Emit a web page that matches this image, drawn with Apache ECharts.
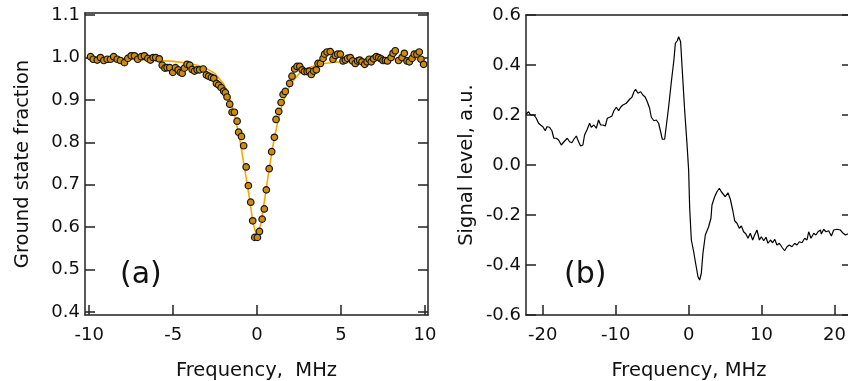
<!DOCTYPE html>
<html><head><meta charset="utf-8">
<script src="https://cdn.jsdelivr.net/npm/echarts@6/dist/echarts.min.js"></script>
<style>html,body{margin:0;padding:0;background:#fff}#c{width:848px;height:381px}</style>
</head><body><div id="c"></div>
<script>
// Panel (a): ground state fraction vs frequency (MHz)
const gsFreq = [-9.92,-9.76,-9.52,-9.33,-9.13,-8.93,-8.73,-8.54,-8.33,-8.14,-7.90,-7.70,-7.50,-7.30,-7.11,-6.90,-6.71,-6.51,-6.35,-6.19,-6.04,-5.83,-5.65,-5.49,-5.36,-5.20,-5.02,-4.86,-4.70,-4.57,-4.46,-4.33,-4.17,-4.01,-3.87,-3.73,-3.57,-3.42,-3.21,-3.02,-2.88,-2.72,-2.58,-2.42,-2.29,-2.14,-1.99,-1.89,-1.79,-1.63,-1.49,-1.35,-1.19,-1.10,-0.93,-0.80,-0.65,-0.52,-0.38,-0.26,-0.14,0.02,0.14,0.30,0.43,0.55,0.72,0.87,1.03,1.13,1.29,1.43,1.55,1.68,1.94,2.08,2.24,2.38,2.54,2.68,2.82,2.98,3.11,3.23,3.37,3.53,3.63,3.77,3.93,4.02,4.17,4.36,4.52,4.66,4.80,4.96,5.12,5.26,5.39,5.55,5.69,5.85,5.99,6.11,6.25,6.41,6.55,6.68,6.80,6.94,7.10,7.24,7.38,7.50,7.64,7.77,7.98,8.10,8.23,8.43,8.63,8.77,8.93,9.07,9.23,9.36,9.52,9.66,9.76,9.92];
const gsFrac = [1.002,0.996,0.994,1.000,0.993,0.996,0.996,1.002,0.996,0.993,0.988,0.998,1.004,1.004,0.996,1.002,1.004,0.998,0.994,1.000,1.000,0.997,0.982,0.975,0.976,0.976,0.965,0.976,0.971,0.965,0.963,0.975,0.984,0.982,0.972,0.968,0.971,0.971,0.973,0.959,0.956,0.953,0.951,0.939,0.935,0.929,0.921,0.917,0.907,0.890,0.871,0.871,0.850,0.824,0.814,0.792,0.742,0.698,0.659,0.615,0.576,0.576,0.590,0.619,0.643,0.688,0.738,0.778,0.812,0.854,0.873,0.894,0.913,0.920,0.939,0.956,0.973,0.979,0.979,0.971,0.967,0.967,0.968,0.960,0.968,0.971,0.986,0.986,0.998,1.008,1.013,1.014,0.996,1.005,1.008,1.008,0.992,0.994,0.998,1.000,0.992,0.986,0.992,0.994,0.990,0.984,0.990,0.996,0.990,0.997,1.002,1.000,0.997,0.993,0.993,0.992,1.000,1.010,1.016,0.993,1.000,1.010,0.992,0.990,0.998,1.008,1.008,1.013,0.996,0.984];
// Panel (a): fitted curve
const fitFreq = [-10,-8,-6,-5,-4,-3.5,-3,-2.5,-2,-1.75,-1.5,-1.25,-1,-0.75,-0.5,-0.25,0,0.25,0.5,0.75,1,1.25,1.5,1.75,2,2.5,3,3.5,4,5,6,8,10];
const fitFrac = [0.997,0.996,0.994,0.991,0.986,0.981,0.974,0.962,0.938,0.918,0.888,0.848,0.800,0.740,0.680,0.612,0.575,0.612,0.680,0.745,0.805,0.852,0.890,0.918,0.938,0.962,0.975,0.981,0.986,0.990,0.993,0.996,0.997];
// Panel (b): signal level vs frequency (MHz)
const sigFreq = [-22.27,-21.95,-21.67,-21.22,-20.89,-20.58,-20.30,-19.99,-19.66,-19.43,-19.07,-18.75,-18.48,-18.15,-17.83,-17.46,-17.10,-16.64,-16.32,-16.01,-15.73,-15.40,-15.09,-14.81,-14.50,-14.27,-13.90,-13.58,-13.35,-12.99,-12.66,-12.35,-12.07,-11.76,-11.43,-11.15,-10.84,-10.52,-10.25,-9.92,-9.60,-9.33,-9.01,-8.55,-8.09,-7.78,-7.50,-7.27,-6.95,-6.58,-6.27,-5.94,-5.67,-5.35,-5.12,-4.76,-4.43,-4.12,-3.84,-3.61,-3.29,-3.06,-2.74,-2.37,-2.02,-1.82,-1.55,-1.37,-1.10,-0.82,-0.55,-0.23,0.00,0.14,0.37,0.69,1.00,1.28,1.51,1.74,1.96,2.29,2.74,3.06,3.20,3.57,3.88,4.21,4.48,4.71,5.03,5.39,5.72,6.04,6.31,6.63,6.95,7.23,7.54,7.86,8.14,8.46,8.78,9.05,9.37,9.70,9.97,10.29,10.61,10.88,11.21,11.52,11.80,12.11,12.44,12.80,13.17,13.49,13.81,14.17,14.54,14.86,15.18,15.54,15.91,16.23,16.46,16.78,17.15,17.46,17.74,18.07,18.20,18.52,18.83,19.20,19.57,19.89,20.34,20.80,21.12,21.49,21.71,22.10];
const sigLevel = [0.204,0.213,0.200,0.200,0.187,0.167,0.160,0.153,0.137,0.153,0.151,0.137,0.107,0.107,0.100,0.080,0.093,0.107,0.093,0.089,0.103,0.116,0.093,0.076,0.080,0.120,0.143,0.167,0.151,0.160,0.147,0.180,0.160,0.160,0.156,0.187,0.191,0.196,0.217,0.231,0.217,0.231,0.240,0.247,0.263,0.271,0.293,0.303,0.287,0.293,0.280,0.271,0.253,0.227,0.191,0.177,0.180,0.167,0.133,0.103,0.103,0.111,0.233,0.333,0.420,0.487,0.497,0.513,0.493,0.353,0.220,0.087,-0.020,-0.170,-0.300,-0.347,-0.400,-0.447,-0.460,-0.433,-0.353,-0.280,-0.247,-0.213,-0.160,-0.127,-0.107,-0.093,-0.107,-0.107,-0.127,-0.111,-0.137,-0.180,-0.223,-0.233,-0.253,-0.244,-0.267,-0.276,-0.293,-0.273,-0.300,-0.280,-0.260,-0.300,-0.287,-0.303,-0.289,-0.313,-0.300,-0.311,-0.297,-0.320,-0.313,-0.329,-0.343,-0.327,-0.320,-0.327,-0.313,-0.320,-0.307,-0.311,-0.293,-0.300,-0.267,-0.293,-0.273,-0.280,-0.267,-0.260,-0.276,-0.257,-0.267,-0.263,-0.284,-0.260,-0.257,-0.260,-0.271,-0.280,-0.276,-0.272];
// Tick values
const ticksAx = [-10,-5,0,5,10];
const ticksAy = [0.4,0.5,0.6,0.7,0.8,0.9,1.0,1.1];
const ticksBx = [-20,-10,0,10,20];
const ticksBy = [-0.6,-0.4,-0.2,0.0,0.2,0.4,0.6];

const FONT = 'DejaVu Sans';
const lineStyle = {color:'#222', width:1.5};
function mainX(grid, min, max, ticks, name){
  return {type:'value', gridIndex:grid, position:'bottom', min:min, max:max,
    axisLine:{show:true, onZero:false, lineStyle:lineStyle},
    axisTick:{show:true, inside:true, length:10, customValues:ticks, lineStyle:lineStyle},
    axisLabel:{show:true, customValues:ticks, margin:11, fontSize:18, fontFamily:FONT, color:'#111',
      formatter:v=>String(Math.round(v))},
    splitLine:{show:false},
    name:name, nameLocation:'middle', nameGap:46,
    nameTextStyle:{fontSize:19.5, fontFamily:FONT, color:'#111'}};
}
function topX(grid, min, max){
  return {type:'value', gridIndex:grid, position:'top', min:min, max:max,
    axisLine:{show:true, onZero:false, lineStyle:lineStyle},
    axisTick:{show:false}, axisLabel:{show:false}, splitLine:{show:false}};
}
function mainY(grid, min, max, ticks, name, gap){
  return {type:'value', gridIndex:grid, position:'left', min:min, max:max,
    axisLine:{show:true, onZero:false, lineStyle:lineStyle},
    axisTick:{show:true, inside:true, length:10, customValues:ticks, lineStyle:lineStyle},
    axisLabel:{show:true, customValues:ticks, margin:5, fontSize:18, fontFamily:FONT, color:'#111',
      formatter:v=>v.toFixed(1)},
    splitLine:{show:false},
    name:name, nameLocation:'middle', nameGap:gap, nameRotate:90,
    nameTextStyle:{fontSize:19.5, fontFamily:FONT, color:'#111'}};
}
function rightY(grid, min, max, ticks){
  return {type:'value', gridIndex:grid, position:'right', min:min, max:max,
    axisLine:{show:true, onZero:false, lineStyle:lineStyle},
    axisTick:{show:true, inside:true, length:10, customValues:ticks, lineStyle:lineStyle},
    axisLabel:{show:false}, splitLine:{show:false}};
}

const chart = echarts.init(document.getElementById('c'), null, {renderer:'canvas'});
chart.setOption({
  animation:false,
  backgroundColor:'#fff',
  grid:[
    {left:85, top:13, width:343, height:302, containLabel:false, outerBoundsMode:'none'},
    {left:526, top:15, width:326, height:300, containLabel:false, outerBoundsMode:'none'}
  ],
  xAxis:[
    mainX(0, -10.25, 10.18, ticksAx, 'Frequency,  MHz'),
    topX(0, -10.25, 10.18),
    mainX(1, -22.3, 22.4, ticksBx, 'Frequency, MHz'),
    topX(1, -22.3, 22.4)
  ],
  yAxis:[
    mainY(0, 0.393, 1.105, ticksAy, 'Ground state fraction', 52),
    rightY(0, 0.393, 1.105, ticksAy),
    mainY(1, -0.6, 0.6, ticksBy, 'Signal level, a.u.', 49),
    rightY(1, -0.6, 0.6, ticksBy)
  ],
  graphic:[
    {type:'text', left:120, top:260, style:{text:'(a)', font:'30px "DejaVu Sans"', fill:'#111'}},
    {type:'text', left:564, top:260, style:{text:'(b)', font:'30px "DejaVu Sans"', fill:'#111'}}
  ],
  series:[
    {type:'line', xAxisIndex:0, yAxisIndex:0, showSymbol:false, symbol:'none',
      data:fitFreq.map((x,i)=>[x,fitFrac[i]]), lineStyle:{color:'#FFA500', width:1.6}, z:2},
    {type:'scatter', xAxisIndex:0, yAxisIndex:0, symbol:'circle', symbolSize:6.5,
      data:gsFreq.map((x,i)=>[x,gsFrac[i]]),
      itemStyle:{color:'#D08A0C', borderColor:'#151515', borderWidth:1.2, opacity:1}, z:3},
    {type:'line', xAxisIndex:2, yAxisIndex:2, showSymbol:false, symbol:'none',
      data:sigFreq.map((x,i)=>[x,sigLevel[i]]), lineStyle:{color:'#000', width:1.2}, z:2}
  ]
});
</script></body></html>
